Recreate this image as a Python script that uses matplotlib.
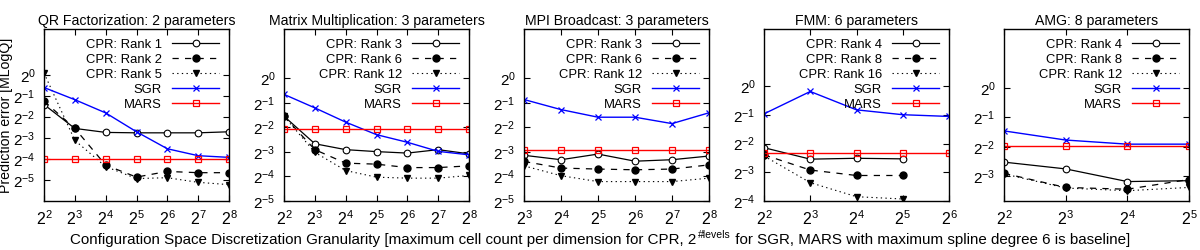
import numpy as np
import matplotlib
matplotlib.use("Agg")
import matplotlib.pyplot as plt

plt.rcParams['font.family'] = ['Liberation Sans', 'DejaVu Sans']
plt.rcParams['mathtext.fontset'] = 'custom'
plt.rcParams['mathtext.rm'] = 'Liberation Sans'
plt.rcParams['mathtext.it'] = 'Liberation Sans'

# ---- data: log2 of x and y values ----
titles = ["QR Factorization: 2 parameters", "Matrix Multiplication: 3 parameters",
          "MPI Broadcast: 3 parameters", "FMM: 6 parameters", "AMG: 8 parameters"]
ranks = [[1, 2, 5], [3, 6, 12], [3, 6, 12], [4, 8, 16], [4, 8, 12]]

qr_x = [2, 3, 4, 5, 6, 7, 8]
qr_r1 = [-1.40, -2.54, -2.73, -2.75, -2.75, -2.75, -2.70]
qr_r2 = [-1.24, -2.54, -4.29, -4.86, -4.59, -4.65, -4.65]
qr_r3 = [0.10, -3.11, -4.36, -4.93, -4.89, -5.11, -5.22]
qr_sgr = [-0.59, -1.17, -1.80, -2.70, -3.51, -3.84, -3.92]
qr_mars = [-4.0] * 7

mm_x = [2, 3, 4, 5, 6, 7, 8]
mm_r1 = [-1.55, -2.67, -2.91, -2.99, -3.05, -2.91, -3.08]
mm_r2 = [-1.55, -2.91, -3.46, -3.50, -3.64, -3.64, -3.57]
mm_r3 = [-1.55, -3.02, -3.76, -4.03, -4.07, -4.07, -3.96]
mm_sgr = [-0.66, -1.21, -1.79, -2.30, -2.61, -2.98, -3.12]
mm_mars = [-2.09] * 7

mpi_x = [3, 4, 5, 6, 7, 8]
mpi_r1 = [-3.14, -3.32, -3.09, -3.38, -3.32, -3.17]
mpi_r2 = [-3.39, -3.66, -3.70, -3.73, -3.70, -3.53]
mpi_r3 = [-3.57, -3.97, -4.21, -4.21, -4.21, -4.07]
mpi_sgr = [-0.87, -1.28, -1.59, -1.59, -1.85, -1.41]
mpi_mars = [-2.91] * 6

fmm_x = [2, 3, 4, 5, 6]
fmm_cpr_x = [2, 3, 4, 5]
fmm_r1 = [-2.14, -2.54, -2.51, -2.53]
fmm_r2 = [-2.39, -2.92, -3.11, -3.11]
fmm_r3 = [-2.43, -3.36, -3.85, -3.93]
fmm_sgr = [-0.96, -0.18, -0.82, -0.99, -1.05]
fmm_mars = [-2.33] * 5

amg_x = [2, 3, 4, 5]
amg_r1 = [-2.52, -2.75, -3.18, -3.15]
amg_r2 = [-2.90, -3.38, -3.44, -3.11]
amg_r3 = [-2.92, -3.40, -3.49, -3.38]
amg_sgr = [-1.46, -1.77, -1.91, -1.91]
amg_mars = [-1.98] * 4

panels = [
    (qr_x, qr_x, qr_r1, qr_r2, qr_r3, qr_sgr, qr_mars, (-6, 2.2), range(-5, 1)),
    (mm_x, mm_x, mm_r1, mm_r2, mm_r3, mm_sgr, mm_mars, (-5, 2), range(-5, 1)),
    (mpi_x, mpi_x, mpi_r1, mpi_r2, mpi_r3, mpi_sgr, mpi_mars, (-5, 2), range(-5, 1)),
    (fmm_x, fmm_cpr_x, fmm_r1, fmm_r2, fmm_r3, fmm_sgr, fmm_mars, (-4, 2), range(-4, 1)),
    (amg_x, amg_x, amg_r1, amg_r2, amg_r3, amg_sgr, amg_mars, (-3.84, 2), range(-3, 1)),
]

lefts = [44, 284, 524, 764, 1004]
W, H = 1200, 250
fig = plt.figure(figsize=(12, 2.5), dpi=100)

for i, (xs, cx, r1, r2, r3, sgr, mars, ylim, yt) in enumerate(panels):
    ax = fig.add_axes([lefts[i] / W, 1 - 201 / H, 185 / W, 172 / H])
    x = 2.0 ** np.array(xs)
    c = 2.0 ** np.array(cx)
    ax.plot(c, 2.0 ** np.array(r1), color='black', lw=0.9, marker='o', mfc='white',
            ms=4.8, mew=0.8, label=f"CPR: Rank {ranks[i][0]}")
    ax.plot(c, 2.0 ** np.array(r2), color='black', lw=0.9, ls=(0, (5, 5)), marker='o',
            ms=5, label=f"CPR: Rank {ranks[i][1]}")
    ax.plot(c, 2.0 ** np.array(r3), color='black', lw=0.8, ls=(0, (1.2, 3)), marker='v',
            ms=5, label=f"CPR: Rank {ranks[i][2]}")
    ax.plot(x, 2.0 ** np.array(sgr), color='blue', lw=1, marker='x', ms=5, mew=0.9,
            label="SGR")
    ax.plot(x, 2.0 ** np.array(mars), color='red', lw=1, marker='s', mfc='none',
            ms=5, mew=0.9, label="MARS")

    ax.set_xscale('log', base=2)
    ax.set_yscale('log', base=2)
    ax.set_xlim(x[0], x[-1])
    ax.set_ylim(2.0 ** ylim[0], 2.0 ** ylim[1])
    ax.set_xticks(x)
    ax.set_xticklabels([f"$2^{{{v}}}$" for v in xs], fontsize=11.5)
    ax.set_yticks([2.0 ** v for v in yt])
    ax.set_yticklabels([f"$2^{{{v}}}$" for v in yt], fontsize=11)
    ax.minorticks_off()
    ax.tick_params(direction='in', top=True, right=True, length=4, width=0.8, pad=6)
    for s in ax.spines.values():
        s.set_linewidth(1)
    ax.set_title(titles[i], fontsize=10.2, pad=3)
    leg = ax.legend(loc='upper right', fontsize=9.4, frameon=False, markerfirst=False,
                    handlelength=3.6, handletextpad=0.8, labelspacing=0.22,
                    borderaxespad=0.35)
    for t in leg.get_texts():
        t.set_ha('right')
    leg._legend_box.align = 'right'
    if i == 0:
        ax.set_ylabel("Prediction error [MLogQ]", fontsize=10.2)
        ax.yaxis.set_label_coords(-31 / 185, 0.5)

# x label with a superscript, assembled from three text pieces
part1 = "Configuration Space Discretization Granularity [maximum cell count per dimension for CPR, 2"
part2 = "#levels"
part3 = " for SGR, MARS with maximum spline degree 6 is baseline]"
r = fig.canvas.get_renderer()
y0 = 0.012
gap = 1.5
t1 = fig.text(0, y0, part1, fontsize=10.9, va='bottom')
t2 = fig.text(0, y0 + 0.03, part2, fontsize=7.5, va='bottom')
t3 = fig.text(0, y0, part3, fontsize=10.9, va='bottom')
w1 = t1.get_window_extent(r).width
w2 = t2.get_window_extent(r).width
w3 = t3.get_window_extent(r).width
start = (W - (w1 + w2 + w3 + gap)) / 2
t1.set_x(start / W)
t2.set_x((start + w1 + gap) / W)
t3.set_x((start + w1 + gap + w2) / W)

fig.savefig("out.png", dpi=100)
